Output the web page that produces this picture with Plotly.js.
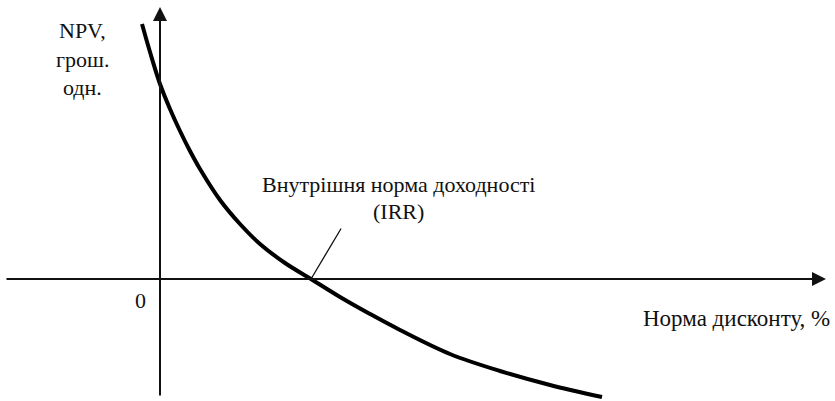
<!DOCTYPE html>
<html>
<head>
<meta charset="utf-8">
<script src="https://cdn.plot.ly/plotly-3.0.1.min.js"></script>
<style>html,body{margin:0;padding:0;background:#fff;}#chart{width:835px;height:401px;}</style>
</head>
<body>
<div id="chart"></div>
<script>
// Discount rate (%) and NPV (money units) — schematic curve
const discountRate = [-1.8, -1.0, 0, 1, 2, 3, 4, 6, 8, 10, 12.5, 15.1, 18, 21, 24, 29, 34, 39, 44.2];
const npvValues    = [127.5, 113.5, 97.5, 85, 74, 64, 55, 39.5, 27.5, 17.5, 8, 0, -9, -17.5, -25.5, -37.5, -46, -53, -59];
const irrValue = 15.1;
const axisX = [-15.5, 66.6];
const axisY = [-59, 136];
const labels = {
  yTitle: ["NPV,", "грош.", "одн."],
  xTitle: "Норма дисконту, %",
  origin: "0",
  irr: ["Внутрішня норма доходності", "(IRR)"]
};

const font = {family: "Liberation Serif", size: 22, color: "#111"};

const trace = {
  x: discountRate, y: npvValues, mode: "lines", type: "scatter",
  line: {color: "#000", width: 4, shape: "spline", smoothing: 1},
  hoverinfo: "skip", showlegend: false
};

const ann = [];
// axes with arrows
ann.push({x: axisX[1], y: 0, ax: axisX[0], ay: 0, xref: "x", yref: "y", axref: "x", ayref: "y",
  showarrow: true, arrowhead: 2, arrowsize: 1.4, arrowwidth: 2, arrowcolor: "#111", text: ""});
ann.push({x: 0, y: axisY[1], ax: 0, ay: axisY[0], xref: "x", yref: "y", axref: "x", ayref: "y",
  showarrow: true, arrowhead: 2, arrowsize: 1.4, arrowwidth: 2, arrowcolor: "#111", text: ""});
// IRR leader line
ann.push({x: irrValue, y: 0, ax: 18.2, ay: 26, xref: "x", yref: "y", axref: "x", ayref: "y",
  showarrow: true, arrowhead: 0, arrowwidth: 1.3, arrowcolor: "#111", text: ""});
// Y title lines
const yTitleY = [124.5, 110, 96];
labels.yTitle.forEach((t, i) => ann.push({x: -7.8, y: yTitleY[i], xref: "x", yref: "y", text: t,
  showarrow: false, font: font, xanchor: "center", yanchor: "middle"}));
// origin
ann.push({x: -2, y: -10.5, xref: "x", yref: "y", text: labels.origin, showarrow: false, font: font,
  xanchor: "center", yanchor: "middle"});
// x title
ann.push({x: 67.2, y: -19.5, xref: "x", yref: "y", text: labels.xTitle, showarrow: false,
  font: Object.assign({}, font, {size: 23}), xanchor: "right", yanchor: "middle"});
// IRR labels
const irrY = [47.5, 34];
labels.irr.forEach((t, i) => ann.push({x: 23.8, y: irrY[i], xref: "x", yref: "y", text: t,
  showarrow: false, font: font, xanchor: "center", yanchor: "middle"}));

const layout = {
  width: 835, height: 401, autosize: false,
  margin: {l: 0, r: 0, t: 0, b: 0, pad: 0},
  paper_bgcolor: "#fff", plot_bgcolor: "#fff",
  xaxis: {range: [-16, 67.5], visible: false, fixedrange: true},
  yaxis: {range: [-61, 139.5], visible: false, fixedrange: true},
  annotations: ann,
  showlegend: false
};

Plotly.newPlot("chart", [trace], layout, {staticPlot: true, displayModeBar: false});
</script>
</body>
</html>
